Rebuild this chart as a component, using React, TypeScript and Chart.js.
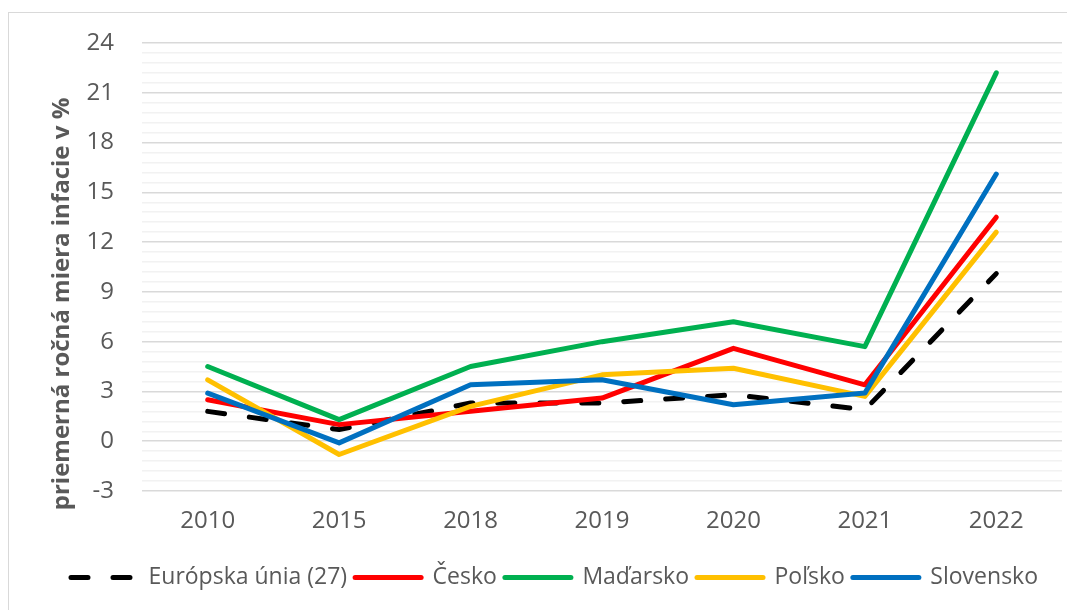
import React, { useEffect, useRef } from "react";
import { Chart, registerables } from "chart.js";

Chart.register(...registerables);

const categories = ["2010", "2015", "2018", "2019", "2020", "2021", "2022"];
const euValues = [1.8, 0.7, 2.3, 2.3, 2.8, 1.9, 10.1];
const czValues = [2.5, 1.0, 1.8, 2.6, 5.6, 3.4, 13.5];
const huValues = [4.5, 1.3, 4.5, 6.0, 7.2, 5.7, 22.2];
const plValues = [3.7, -0.8, 2.1, 4.0, 4.4, 2.7, 12.6];
const skValues = [2.9, -0.1, 3.4, 3.7, 2.2, 2.9, 16.1];
const seriesNames = ["Európska únia (27)", "Česko", "Maďarsko", "Poľsko", "Slovensko"];
const yTitle = "priemerná ročná miera infacie v %";

const FONT = "'Open Sans', 'Noto Sans', sans-serif";
const TEXT = "#595959";

const yTitlePlugin = {
  id: "yTitlePlugin",
  afterDraw(chart: any) {
    const { ctx, chartArea } = chart;
    ctx.save();
    ctx.translate(chartArea.left - 80, (chartArea.top + chartArea.bottom) / 2 + 37);
    ctx.rotate(-Math.PI / 2);
    ctx.font = `bold 24px ${FONT}`;
    ctx.fillStyle = TEXT;
    ctx.textAlign = "center";
    ctx.textBaseline = "middle";
    ctx.fillText(yTitle, 0, 0);
    ctx.restore();
  },
};

export default function App() {
  const ref = useRef<HTMLCanvasElement>(null);
  useEffect(() => {
    const common = {
      fill: false,
      tension: 0,
      pointRadius: 0,
      pointHoverRadius: 0,
      borderWidth: 5,
      borderCapStyle: "round" as const,
      borderJoinStyle: "round" as const,
    };
    const chart = new Chart(ref.current!, {
      type: "line",
      data: {
        labels: categories,
        datasets: [
          { ...common, label: seriesNames[0], data: euValues, borderColor: "#000000", backgroundColor: "#000000", borderDash: [17, 25], order: 5 },
          { ...common, label: seriesNames[1], data: czValues, borderColor: "#FF0000", backgroundColor: "#FF0000", order: 4 },
          { ...common, label: seriesNames[2], data: huValues, borderColor: "#00B050", backgroundColor: "#00B050", order: 3 },
          { ...common, label: seriesNames[3], data: plValues, borderColor: "#FFC000", backgroundColor: "#FFC000", order: 2 },
          { ...common, label: seriesNames[4], data: skValues, borderColor: "#0070C0", backgroundColor: "#0070C0", order: 1 },
        ],
      },
      options: {
        animation: false,
        responsive: false,
        maintainAspectRatio: false,
        layout: { padding: { left: 38, right: 15, top: 30, bottom: 12 } },
        plugins: {
          tooltip: { enabled: false },
          legend: {
            position: "bottom",
            labels: {
              usePointStyle: true,
              pointStyle: "line",
              pointStyleWidth: 66,
              padding: 8,
              color: TEXT,
              font: { family: FONT, size: 23 },
              sort: (a: any, b: any) => a.datasetIndex - b.datasetIndex,
              generateLabels: (c: any) => {
                const items = (Chart.defaults as any).plugins.legend.labels.generateLabels(c);
                items.forEach((it: any) => {
                  const ds: any = c.data.datasets[it.datasetIndex];
                  it.lineDash = ds.borderDash || [];
                  it.lineCap = "round";
                  it.lineWidth = 5;
                  it.strokeStyle = ds.borderColor;
                  it.fillStyle = ds.borderColor;
                  it.pointStyle = "line";
                });
                return items;
              },
            },
          },
        },
        scales: {
          x: {
            type: "category",
            offset: true,
            grid: { display: false, drawTicks: false },
            border: { display: false },
            ticks: { color: TEXT, font: { family: FONT, size: 24 }, padding: 16, maxRotation: 0 },
            afterFit: (s: any) => { s.height = 67; },
          },
          y: {
            min: -3,
            max: 24,
            grid: {
              drawTicks: true,
              tickLength: 19,
              tickColor: "rgba(0,0,0,0)",
              lineWidth: 1.5,
              color: (c: any) => {
                const v = Math.round((c.tick?.value ?? 0) * 10);
                return v % 30 === 0 ? "#d9d9d9" : "#f2f2f2";
              },
            },
            border: { display: false },
            ticks: {
              stepSize: 0.6,
              autoSkip: false,
              color: TEXT,
              font: { family: FONT, size: 24 },
              padding: 9,
              callback: (value: any) => {
                const v = Math.round(Number(value) * 10);
                return v % 30 === 0 ? String(v / 10) : "";
              },
            },
            afterFit: (s: any) => { s.width = 95; },
          },
        },
      },
      plugins: [yTitlePlugin],
    });
    return () => chart.destroy();
  }, []);
  return (
    <div style={{ marginTop: 4, width: 1070, height: 600, border: "1px solid #d9d9d9", boxSizing: "border-box" as const }}>
      <canvas ref={ref} width={1068} height={598} style={{ display: "block" }} />
    </div>
  );
}
